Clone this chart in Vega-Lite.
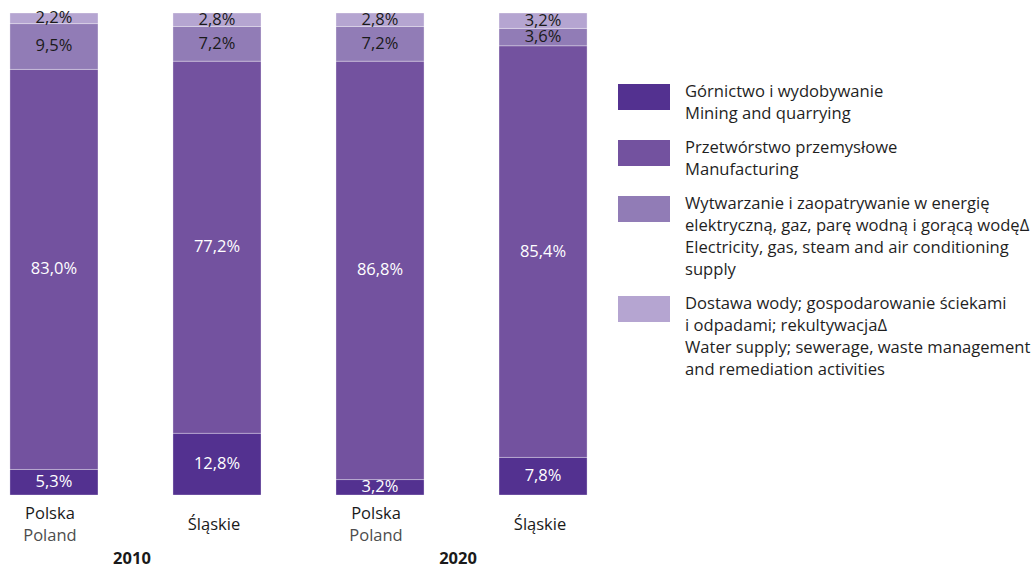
{
  "$schema": "https://vega.github.io/schema/vega-lite/v6.json",
  "width": 597,
  "height": 482,
  "autosize": {"type": "none"},
  "padding": {"left": 0, "top": 13, "right": 437, "bottom": 75},
  "config": {
    "view": {"stroke": null},
    "locale": {"number": {"decimal": ",", "thousands": " ", "grouping": [3], "currency": ["", " zł"]}},
    "style": {"guide-label": {"lineHeight": 22}}
  },
  "data": {
    "values": [
      {"year": "2010", "region": "Polska", "region_en": "Poland", "bar": "2010 Polska", "sector": "Górnictwo i wydobywanie", "k": 1, "value": 0.053},
      {"year": "2010", "region": "Polska", "region_en": "Poland", "bar": "2010 Polska", "sector": "Przetwórstwo przemysłowe", "k": 2, "value": 0.830},
      {"year": "2010", "region": "Polska", "region_en": "Poland", "bar": "2010 Polska", "sector": "Wytwarzanie i zaopatrywanie w energię", "k": 3, "value": 0.095},
      {"year": "2010", "region": "Polska", "region_en": "Poland", "bar": "2010 Polska", "sector": "Dostawa wody", "k": 4, "value": 0.022},
      {"year": "2010", "region": "Śląskie", "region_en": "", "bar": "2010 Śląskie", "sector": "Górnictwo i wydobywanie", "k": 1, "value": 0.128},
      {"year": "2010", "region": "Śląskie", "region_en": "", "bar": "2010 Śląskie", "sector": "Przetwórstwo przemysłowe", "k": 2, "value": 0.772},
      {"year": "2010", "region": "Śląskie", "region_en": "", "bar": "2010 Śląskie", "sector": "Wytwarzanie i zaopatrywanie w energię", "k": 3, "value": 0.072},
      {"year": "2010", "region": "Śląskie", "region_en": "", "bar": "2010 Śląskie", "sector": "Dostawa wody", "k": 4, "value": 0.028},
      {"year": "2020", "region": "Polska", "region_en": "Poland", "bar": "2020 Polska", "sector": "Górnictwo i wydobywanie", "k": 1, "value": 0.032},
      {"year": "2020", "region": "Polska", "region_en": "Poland", "bar": "2020 Polska", "sector": "Przetwórstwo przemysłowe", "k": 2, "value": 0.868},
      {"year": "2020", "region": "Polska", "region_en": "Poland", "bar": "2020 Polska", "sector": "Wytwarzanie i zaopatrywanie w energię", "k": 3, "value": 0.072},
      {"year": "2020", "region": "Polska", "region_en": "Poland", "bar": "2020 Polska", "sector": "Dostawa wody", "k": 4, "value": 0.028},
      {"year": "2020", "region": "Śląskie", "region_en": "", "bar": "2020 Śląskie", "sector": "Górnictwo i wydobywanie", "k": 1, "value": 0.078},
      {"year": "2020", "region": "Śląskie", "region_en": "", "bar": "2020 Śląskie", "sector": "Przetwórstwo przemysłowe", "k": 2, "value": 0.854},
      {"year": "2020", "region": "Śląskie", "region_en": "", "bar": "2020 Śląskie", "sector": "Wytwarzanie i zaopatrywanie w energię", "k": 3, "value": 0.036},
      {"year": "2020", "region": "Śląskie", "region_en": "", "bar": "2020 Śląskie", "sector": "Dostawa wody", "k": 4, "value": 0.032}
    ]
  },
  "encoding": {
    "x": {
      "field": "bar",
      "type": "nominal",
      "sort": ["2010 Polska", "2010 Śląskie", "2020 Polska", "2020 Śląskie"],
      "scale": {"paddingInner": 0.46, "paddingOuter": 0.061},
      "axis": null
    }
  },
  "layer": [
    {
      "mark": {"type": "bar", "stroke": "#ffffff", "strokeOpacity": 0.3, "strokeWidth": 1},
      "encoding": {
        "y": {"field": "value", "type": "quantitative", "stack": "zero", "scale": {"domain": [0, 1]}, "axis": null},
        "color": {
          "field": "sector",
          "type": "nominal",
          "scale": {
            "domain": ["Górnictwo i wydobywanie", "Przetwórstwo przemysłowe", "Wytwarzanie i zaopatrywanie w energię", "Dostawa wody"],
            "range": ["#533190", "#73529f", "#917cb6", "#b5a5d1"]
          },
          "legend": {
            "title": null,
            "orient": "none",
            "legendX": 618,
            "legendY": 58,
            "padding": 0,
            "symbolType": "M-1,-0.5H1V0.5H-1Z",
            "symbolSize": 2704,
            "symbolStrokeWidth": 0,
            "symbolOpacity": 1,
            "labelFont": "Open Sans",
            "labelFontSize": 16.6,
            "labelColor": "#1f1f1f",
            "labelLimit": 0,
            "labelOffset": 15,
            "labelBaseline": "alphabetic",
            "rowPadding": 4,
            "labelExpr": "datum.label == 'Górnictwo i wydobywanie' ? ['Górnictwo i wydobywanie', 'Mining and quarrying'] : datum.label == 'Przetwórstwo przemysłowe' ? ['Przetwórstwo przemysłowe', 'Manufacturing'] : datum.label == 'Dostawa wody' ? ['Dostawa wody; gospodarowanie ściekami', 'i odpadami; rekultywacjaΔ', 'Water supply; sewerage, waste management', 'and remediation activities'] : ['Wytwarzanie i zaopatrywanie w energię', 'elektryczną, gaz, parę wodną i gorącą wodęΔ', 'Electricity, gas, steam and air conditioning', 'supply']"
          }
        },
        "order": {"field": "k", "type": "quantitative"}
      }
    },
    {
      "transform": [
        {"stack": "value", "groupby": ["bar"], "sort": [{"field": "k"}], "as": ["v0", "v1"]},
        {"calculate": "(datum.v0 + datum.v1) / 2", "as": "mid"}
      ],
      "mark": {"type": "text", "font": "Open Sans", "fontSize": 16.5, "baseline": "middle"},
      "encoding": {
        "y": {"field": "mid", "type": "quantitative", "scale": {"domain": [0, 1]}},
        "text": {"field": "value", "type": "quantitative", "format": ".1%"},
        "color": {"condition": {"test": "datum.k <= 2", "value": "#ffffff"}, "value": "#1a1a1a"}
      }
    },
    {
      "transform": [{"filter": "datum.k == 1 && datum.region == 'Polska'"}],
      "mark": {"type": "text", "font": "Open Sans", "fontSize": 16.5, "baseline": "middle", "color": "#1a1a1a", "dx": -4},
      "encoding": {
        "y": {"datum": -0.04, "type": "quantitative", "scale": {"domain": [0, 1]}},
        "text": {"field": "region"}
      }
    },
    {
      "transform": [{"filter": "datum.k == 1 && datum.region == 'Polska'"}],
      "mark": {"type": "text", "font": "Open Sans", "fontSize": 16.5, "baseline": "middle", "color": "#4d4d4d", "dx": -4},
      "encoding": {
        "y": {"datum": -0.085, "type": "quantitative", "scale": {"domain": [0, 1]}},
        "text": {"field": "region_en"}
      }
    },
    {
      "transform": [{"filter": "datum.k == 1 && datum.region == 'Śląskie'"}],
      "mark": {"type": "text", "font": "Open Sans", "fontSize": 16.5, "baseline": "middle", "color": "#1a1a1a", "dx": -3},
      "encoding": {
        "y": {"datum": -0.062, "type": "quantitative", "scale": {"domain": [0, 1]}},
        "text": {"field": "region"}
      }
    },
    {
      "transform": [{"filter": "datum.k == 1 && datum.region == 'Polska'"}],
      "mark": {"type": "text", "font": "Open Sans", "fontSize": 16.5, "fontWeight": "bold", "baseline": "middle", "color": "#1a1a1a", "dx": 78},
      "encoding": {
        "y": {"datum": -0.133, "type": "quantitative", "scale": {"domain": [0, 1]}},
        "text": {"field": "year"}
      }
    }
  ]
}
